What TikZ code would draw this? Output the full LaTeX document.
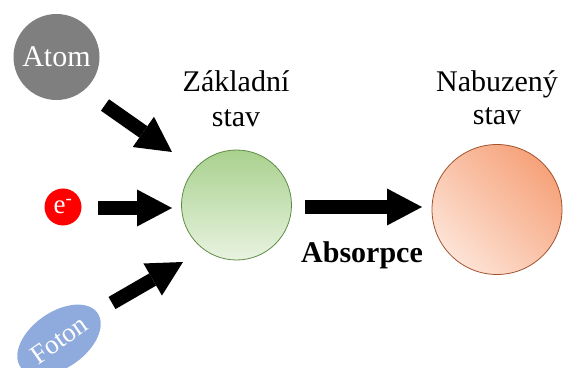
\documentclass[tikz,border=0pt]{standalone}
\usepackage{fontspec}
\setmainfont{Liberation Serif}
\usetikzlibrary{arrows.meta,shapes.geometric,calc}
\definecolor{atomgray}{HTML}{7F7F7F}
\definecolor{gtop}{HTML}{A9D18E}
\definecolor{gbot}{HTML}{E8F3E0}
\definecolor{gborder}{HTML}{5E8C45}
\definecolor{otop}{HTML}{F6A27A}
\definecolor{obot}{HTML}{FDE3D6}
\definecolor{oborder}{HTML}{A0522D}
\definecolor{fotonblue}{HTML}{8FAADC}
\tikzset{
  bigarrow/.style={line width=14pt,-{Triangle[length=35pt,width=37pt,line width=0pt]}},
  lbl/.style={font=\fontsize{30}{35}\selectfont, inner sep=0pt, anchor=base},
  circ/.style={circle, inner sep=0pt}
}
\begin{document}
\begin{tikzpicture}[x=1pt,y=1pt]
\useasboundingbox (0,0) rectangle (564,367);
% nodes
\node[circ, fill=atomgray, minimum size=86pt, text=white, font=\fontsize{30}{35}\selectfont] (atom) at (56.5,310) {Atom};
\node[circ, fill=red, minimum size=37pt, text=white, font=\fontsize{27}{30}\selectfont] (el) at (63,160) {e\textsuperscript{-}};
\node[ellipse, fill=fotonblue, minimum width=94pt, minimum height=56pt, inner sep=0pt, rotate=35, text=white, font=\fontsize{27}{32}\selectfont] (foton) at (59,27) {Foton};
\node[circ, minimum size=110pt, draw=gborder, line width=0.8pt, top color=gtop, bottom color=gbot] (zakl) at (236.5,162) {};
\node[circ, minimum size=130pt, draw=oborder, line width=0.8pt, top color=otop, bottom color=obot, shading angle=-45] (nab) at (497,157.5) {};
% labels
\node[lbl] (z1) at (236,275) {Základní};
\node[lbl] (z2) at (236,240) {stav};
\node[lbl] (n1) at (497,275) {Nabuzený};
\node[lbl] (n2) at (497,242) {stav};
\node[lbl, font=\fontsize{30}{35}\selectfont\bfseries] (abs) at (362,105) {Absorpce};
% arrows
\draw[bigarrow] ($(atom.center)+(48.5,-48)$) -- ($(zakl.center)+(-64.5,53)$);
\draw[bigarrow] ($(el.center)+(35,-1)$) -- ($(zakl.center)+(-64.5,-3)$);
\draw[bigarrow] ($(foton.center)+(53,37)$) -- ($(zakl.center)+(-53.5,-57)$);
\draw[bigarrow] ($(zakl.center)+(68.5,-2)$) -- ($(nab.center)+(-75,2.5)$);
\end{tikzpicture}
\end{document}
